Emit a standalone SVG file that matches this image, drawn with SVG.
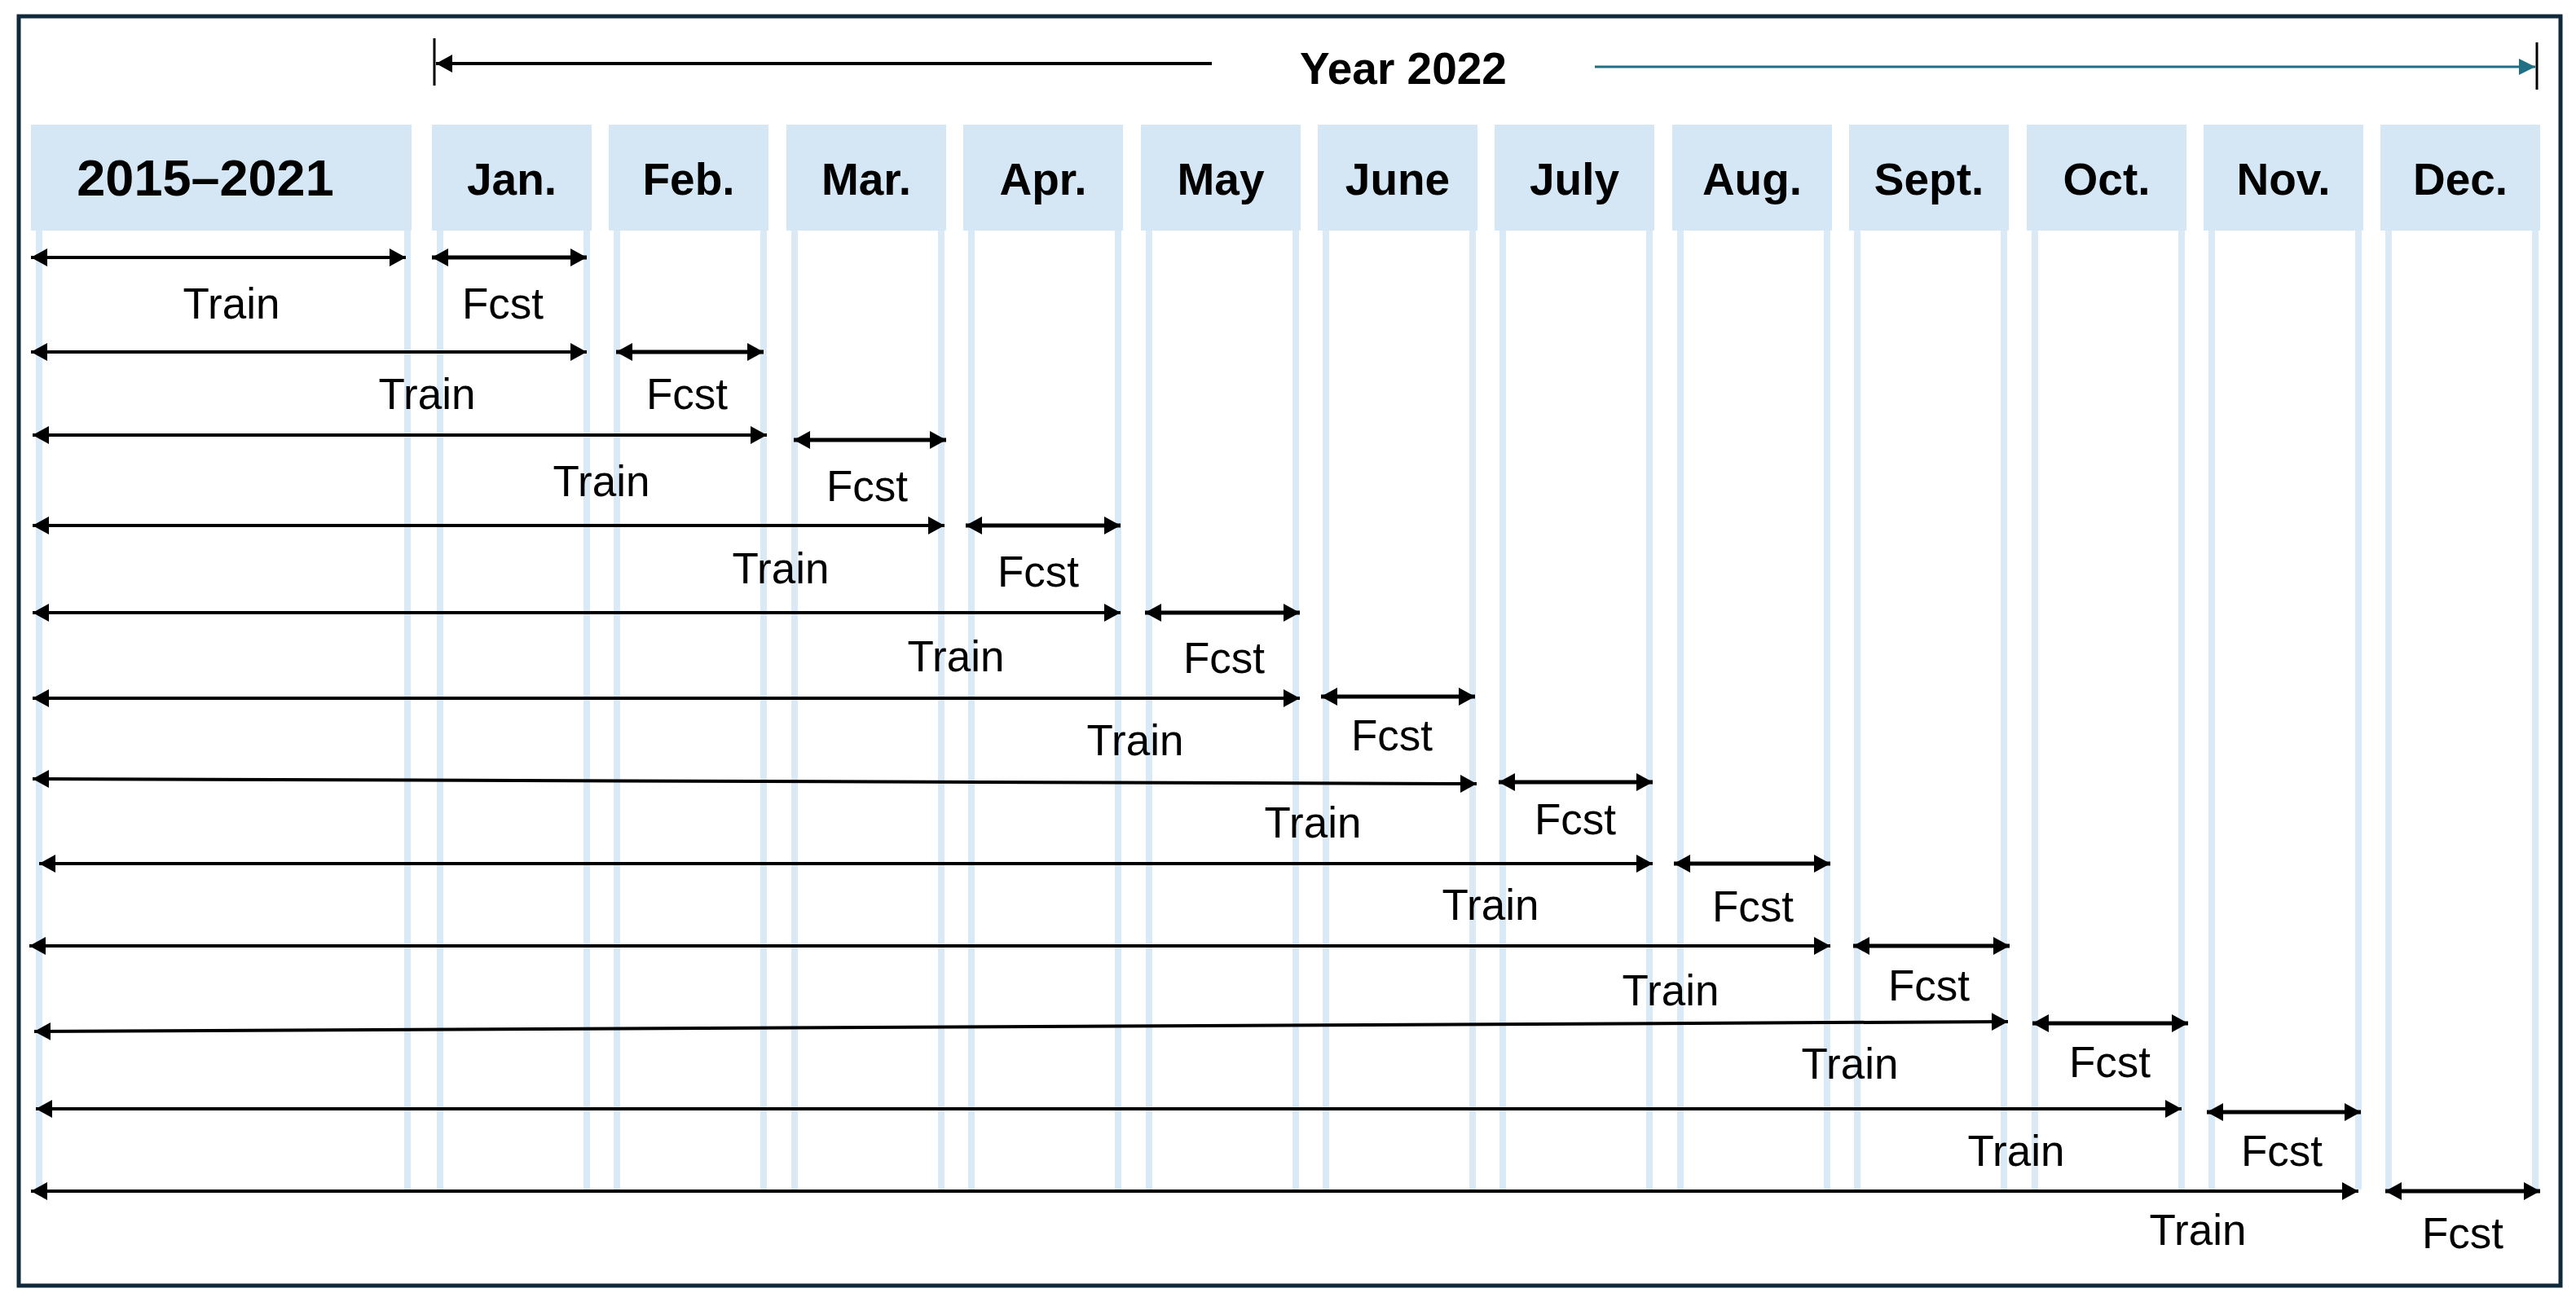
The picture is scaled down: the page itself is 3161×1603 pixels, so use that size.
<svg xmlns="http://www.w3.org/2000/svg" width="3161" height="1603" viewBox="0 0 3161 1603">
<style>
.hd{fill:#d5e7f5}
.st{fill:#d9e9f6}
.ht{font-family:"Liberation Sans",Arial,sans-serif;font-weight:bold;font-size:55px;fill:#000;text-anchor:middle}
.big{font-size:63px}
.lb{font-family:"Liberation Sans",Arial,sans-serif;font-size:53px;fill:#000;text-anchor:middle}
.ar{stroke:#000;stroke-width:5;fill:none;marker-start:url(#ah);marker-end:url(#ah)}
.tr{stroke:#000;stroke-width:4;fill:none;marker-start:url(#ah);marker-end:url(#ah)}
</style>
<defs>
<marker id="ah" markerUnits="userSpaceOnUse" markerWidth="22" markerHeight="24" refX="20" refY="12" orient="auto-start-reverse" viewBox="0 0 22 24">
<path d="M0,1 L20,12 L0,23 Z" fill="#000"/>
</marker>
<marker id="ahT" markerUnits="userSpaceOnUse" markerWidth="22" markerHeight="24" refX="20" refY="12" orient="auto" viewBox="0 0 22 24">
<path d="M0,2 L20,12 L0,22 Z" fill="#1f6f85"/>
</marker>
</defs>
<rect x="0" y="0" width="3161" height="1603" fill="#fff"/>
<rect id="frame" x="23" y="20" width="3119" height="1558" fill="none" stroke="#10293b" stroke-width="5"/>

<g id="year-span">
<line x1="533" y1="47" x2="533" y2="105" stroke="#000" stroke-width="3"/>
<line x1="1487" y1="78" x2="535" y2="78" stroke="#000" stroke-width="4" marker-end="url(#ah)"/>
<text class="ht" x="1722" y="103">Year 2022</text>
<line x1="1957" y1="82" x2="3111" y2="82" stroke="#1f6f85" stroke-width="3" marker-end="url(#ahT)"/>
<line x1="3113" y1="52" x2="3113" y2="110" stroke="#000" stroke-width="3"/>
</g>

<g id="col-2015-2021">
<rect class="hd" x="38" y="153" width="467" height="130"/>
<rect class="st" x="44" y="283" width="8" height="1177"/>
<rect class="st" x="496" y="283" width="8" height="1177"/>
<text class="ht big" x="252" y="240">2015–2021</text>
</g>
<g id="col-jan">
<rect class="hd" x="530" y="153" width="196" height="130"/>
<rect class="st" x="536" y="283" width="8" height="1177"/>
<rect class="st" x="716" y="283" width="8" height="1177"/>
<text class="ht" x="628" y="239">Jan.</text>
</g>
<g id="col-feb">
<rect class="hd" x="747" y="153" width="196" height="130"/>
<rect class="st" x="753" y="283" width="8" height="1177"/>
<rect class="st" x="933" y="283" width="8" height="1177"/>
<text class="ht" x="845" y="239">Feb.</text>
</g>
<g id="col-mar">
<rect class="hd" x="965" y="153" width="196" height="130"/>
<rect class="st" x="971" y="283" width="8" height="1177"/>
<rect class="st" x="1151" y="283" width="8" height="1177"/>
<text class="ht" x="1063" y="239">Mar.</text>
</g>
<g id="col-apr">
<rect class="hd" x="1182" y="153" width="196" height="130"/>
<rect class="st" x="1188" y="283" width="8" height="1177"/>
<rect class="st" x="1368" y="283" width="8" height="1177"/>
<text class="ht" x="1280" y="239">Apr.</text>
</g>
<g id="col-may">
<rect class="hd" x="1400" y="153" width="196" height="130"/>
<rect class="st" x="1406" y="283" width="8" height="1177"/>
<rect class="st" x="1586" y="283" width="8" height="1177"/>
<text class="ht" x="1498" y="239">May</text>
</g>
<g id="col-jun">
<rect class="hd" x="1617" y="153" width="196" height="130"/>
<rect class="st" x="1623" y="283" width="8" height="1177"/>
<rect class="st" x="1803" y="283" width="8" height="1177"/>
<text class="ht" x="1715" y="239">June</text>
</g>
<g id="col-jul">
<rect class="hd" x="1834" y="153" width="196" height="130"/>
<rect class="st" x="1840" y="283" width="8" height="1177"/>
<rect class="st" x="2020" y="283" width="8" height="1177"/>
<text class="ht" x="1932" y="239">July</text>
</g>
<g id="col-aug">
<rect class="hd" x="2052" y="153" width="196" height="130"/>
<rect class="st" x="2058" y="283" width="8" height="1177"/>
<rect class="st" x="2238" y="283" width="8" height="1177"/>
<text class="ht" x="2150" y="239">Aug.</text>
</g>
<g id="col-sep">
<rect class="hd" x="2269" y="153" width="196" height="130"/>
<rect class="st" x="2275" y="283" width="8" height="1177"/>
<rect class="st" x="2455" y="283" width="8" height="1177"/>
<text class="ht" x="2367" y="239">Sept.</text>
</g>
<g id="col-oct">
<rect class="hd" x="2487" y="153" width="196" height="130"/>
<rect class="st" x="2493" y="283" width="8" height="1177"/>
<rect class="st" x="2673" y="283" width="8" height="1177"/>
<text class="ht" x="2585" y="239">Oct.</text>
</g>
<g id="col-nov">
<rect class="hd" x="2704" y="153" width="196" height="130"/>
<rect class="st" x="2710" y="283" width="8" height="1177"/>
<rect class="st" x="2890" y="283" width="8" height="1177"/>
<text class="ht" x="2802" y="239">Nov.</text>
</g>
<g id="col-dec">
<rect class="hd" x="2921" y="153" width="196" height="130"/>
<rect class="st" x="2927" y="283" width="8" height="1177"/>
<rect class="st" x="3107" y="283" width="8" height="1177"/>
<text class="ht" x="3019" y="239">Dec.</text>
</g>

<g id="connectors">
<line class="tr" x1="38" y1="316" x2="498" y2="316"/>
<line class="ar" x1="530" y1="316" x2="720" y2="316"/>
<line class="tr" x1="38" y1="432" x2="720" y2="432"/>
<line class="ar" x1="756" y1="432" x2="937" y2="432"/>
<line class="tr" x1="40" y1="534" x2="941" y2="534"/>
<line class="ar" x1="974" y1="540" x2="1161" y2="540"/>
<line class="tr" x1="40" y1="645" x2="1159" y2="645"/>
<line class="ar" x1="1185" y1="645" x2="1375" y2="645"/>
<line class="tr" x1="40" y1="752" x2="1375" y2="752"/>
<line class="ar" x1="1405" y1="752" x2="1595" y2="752"/>
<line class="tr" x1="40" y1="857" x2="1595" y2="857"/>
<line class="ar" x1="1621" y1="855" x2="1810" y2="855"/>
<line class="tr" x1="40" y1="956" x2="1812" y2="962"/>
<line class="ar" x1="1839" y1="960" x2="2028" y2="960"/>
<line class="tr" x1="48" y1="1060" x2="2028" y2="1060"/>
<line class="ar" x1="2054" y1="1060" x2="2246" y2="1060"/>
<line class="tr" x1="36" y1="1161" x2="2246" y2="1161"/>
<line class="ar" x1="2274" y1="1161" x2="2466" y2="1161"/>
<line class="tr" x1="42" y1="1266" x2="2464" y2="1254"/>
<line class="ar" x1="2494" y1="1256" x2="2685" y2="1256"/>
<line class="tr" x1="44" y1="1361" x2="2677" y2="1361"/>
<line class="ar" x1="2708" y1="1365" x2="2897" y2="1365"/>
<line class="tr" x1="38" y1="1462" x2="2894" y2="1462"/>
<line class="ar" x1="2927" y1="1462" x2="3117" y2="1462"/>
</g>

<g id="labels">
<text class="lb" x="284" y="391">Train</text>
<text class="lb" x="617" y="391">Fcst</text>
<text class="lb" x="524" y="502">Train</text>
<text class="lb" x="843" y="502">Fcst</text>
<text class="lb" x="738" y="609">Train</text>
<text class="lb" x="1064" y="615">Fcst</text>
<text class="lb" x="958" y="716">Train</text>
<text class="lb" x="1274" y="720">Fcst</text>
<text class="lb" x="1173" y="824">Train</text>
<text class="lb" x="1502" y="826">Fcst</text>
<text class="lb" x="1393" y="927">Train</text>
<text class="lb" x="1708" y="921">Fcst</text>
<text class="lb" x="1611" y="1028">Train</text>
<text class="lb" x="1933" y="1024">Fcst</text>
<text class="lb" x="1829" y="1129">Train</text>
<text class="lb" x="2151" y="1131">Fcst</text>
<text class="lb" x="2050" y="1234">Train</text>
<text class="lb" x="2367" y="1228">Fcst</text>
<text class="lb" x="2270" y="1324">Train</text>
<text class="lb" x="2589" y="1322">Fcst</text>
<text class="lb" x="2474" y="1431">Train</text>
<text class="lb" x="2800" y="1431">Fcst</text>
<text class="lb" x="2697" y="1528">Train</text>
<text class="lb" x="3022" y="1532">Fcst</text>
</g>
</svg>
